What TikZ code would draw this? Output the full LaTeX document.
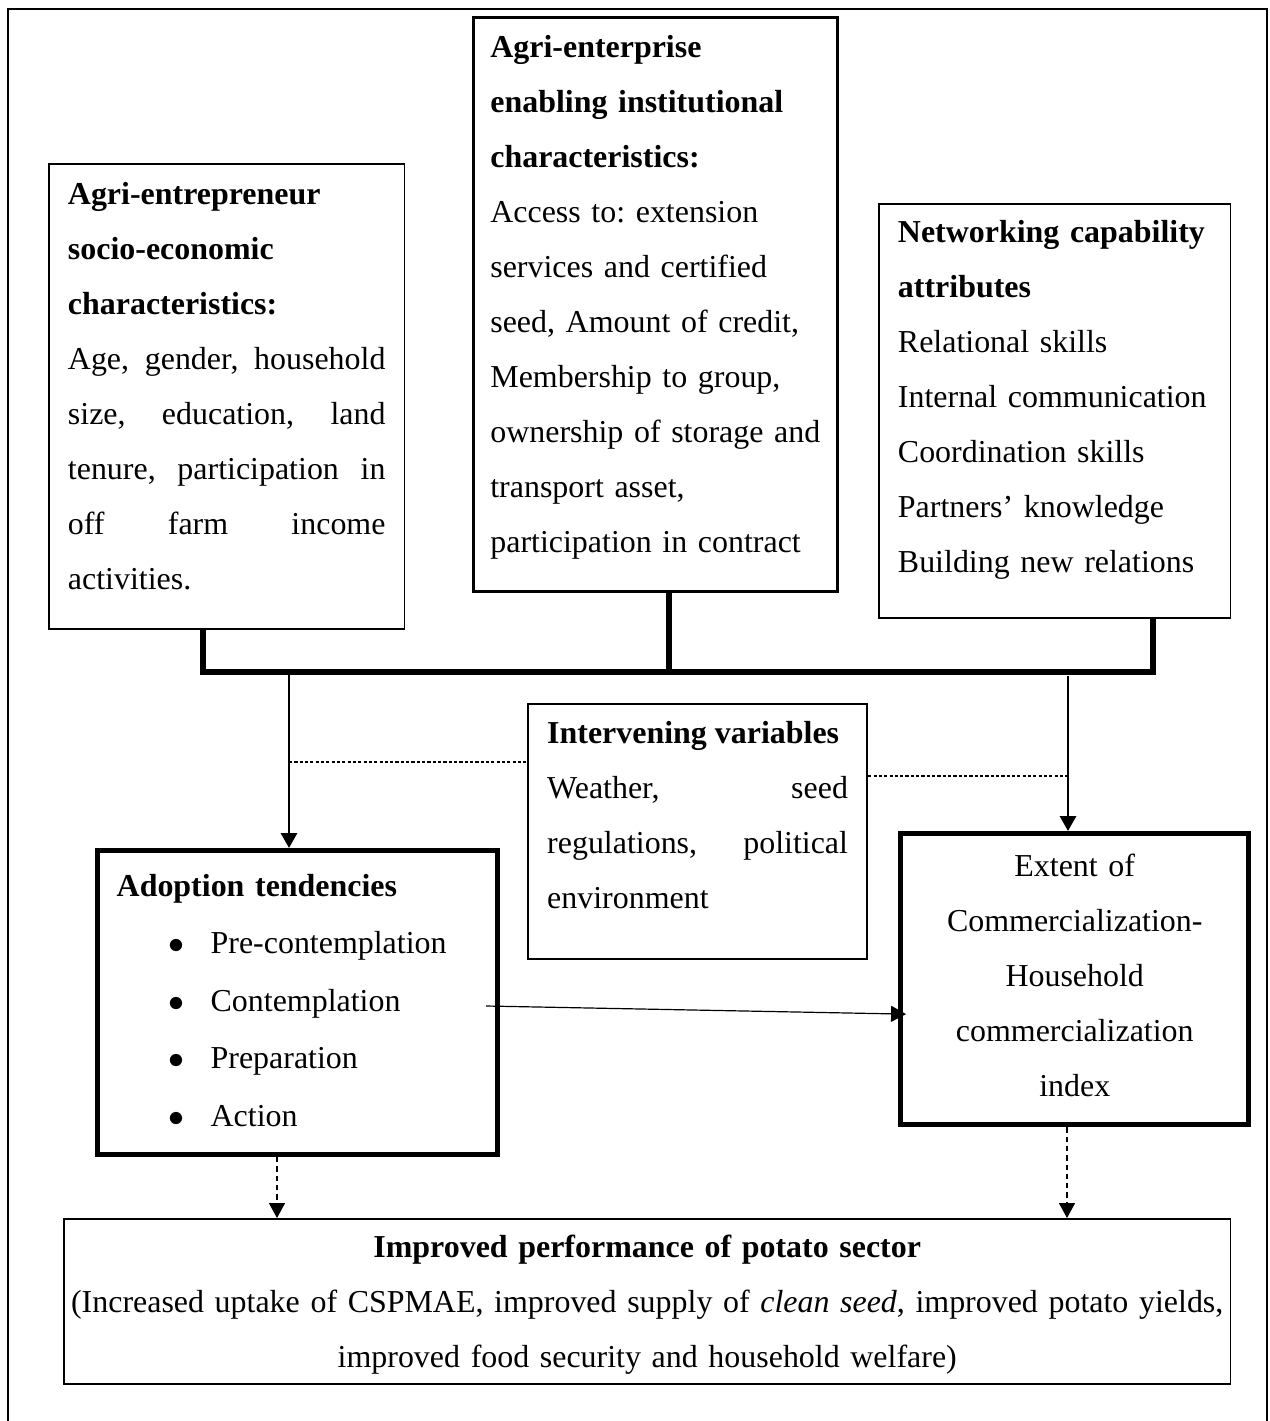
\documentclass[tikz,border=0pt]{standalone}
\usepackage{fontspec}
\setmainfont{Liberation Serif}
\usepackage{tikz}
\usetikzlibrary{
    arrows.meta,
    calc
}
\frenchspacing

\begin{document}
\begin{tikzpicture}[
    x=0.3757pt,
    y=-0.3757pt,
    font=\fontsize{12pt}{20.66pt}\selectfont,
    textbox/.style={
        rectangle,
        draw,
        anchor=north west,
        inner xsep=7.2pt,
        inner ysep=0pt,
        line width=0.6pt
    },
    heavybox/.style={
        textbox,
        line width=1.9pt
    },
    frame/.style={
        line width=1.1pt
    },
    bus/.style={
        line width=1.9pt
    },
    arrow/.style={
        -{Triangle[length=5.6pt,width=6pt]},
        line width=1.1pt
    },
    thinarrow/.style={
        -{Triangle[length=5.6pt,width=6pt]},
        line width=0.45pt
    },
    dasharrow/.style={
        -{Triangle[length=5.6pt,width=6pt]},
        line width=0.45pt,
        dash pattern=on 2pt off 1.5pt
    },
    dashline/.style={
        line width=0.45pt,
        dash pattern=on 1.2pt off 0.8pt
    }
]

\useasboundingbox (0,0) rectangle (1270,1421);

% ============================================================
% OUTER FRAME
% ============================================================

\draw[frame] (8,1421) -- (8,9) -- (1267,9) -- (1267,1421);

% ============================================================
% INDEPENDENT VARIABLES
% ============================================================

\node[textbox, align=justify, text width=119.3pt,
      text height=15.4pt, text depth=159.3pt] (agent) at (48,163)
{
\textbf{Agri-entrepreneur}\\
\textbf{socio-economic}\\
\textbf{characteristics:}\\
Age, gender, household\linebreak
size, education, land\linebreak
tenure, participation in\linebreak
off farm income\linebreak
activities.
};

\node[textbox, align=left, text width=124pt, inner xsep=6.4pt,
      line width=1pt, text height=15pt, text depth=200.6pt]
      (enterprise) at (472,16)
{
\textbf{Agri-enterprise}\\
\textbf{enabling institutional}\\
\textbf{characteristics:}\\
Access to: extension\\
services and certified\\
seed, Amount of credit,\\
Membership to group,\\
ownership of storage and\\
transport asset,\\
participation in contract
};

\node[textbox, align=left, text width=117.8pt,
      text height=14.65pt, text depth=140.9pt] (network) at (878,203)
{
\textbf{Networking capability}\\
\textbf{attributes}\\
Relational skills\\
Internal communication\\
Coordination skills\\
Partners' knowledge\\
Building new relations
};

% ============================================================
% INTERVENING VARIABLES
% ============================================================

\node[textbox, align=justify, text width=113pt, line width=0.8pt,
      text height=14.65pt, text depth=81.2pt] (inter) at (527,703)
{
\textbf{Intervening variables}\\
Weather, seed\linebreak
regulations, political\linebreak
environment
};

% ============================================================
% DEPENDENT VARIABLES
% ============================================================

\node[heavybox, align=left, text width=135.9pt,
      text height=17.3pt, text depth=96.9pt] (adopt) at (95,848)
{
\textbf{Adoption tendencies}\\[0.9pt]
\hspace*{19.5pt}\makebox[15.8pt][l]{$\bullet$}Pre-contemplation\\[0.9pt]
\hspace*{19.5pt}\makebox[15.8pt][l]{$\bullet$}Contemplation\\[0.9pt]
\hspace*{19.5pt}\makebox[15.8pt][l]{$\bullet$}Preparation\\[0.9pt]
\hspace*{19.5pt}\makebox[15.8pt][l]{$\bullet$}Action
};

\node[heavybox, align=center, text width=116.5pt,
      text height=16.2pt, text depth=93.2pt] (extent) at (898,831)
{
Extent of\\
Commercialization-\\
Household\\
commercialization\\
index
};

% ============================================================
% OUTCOME
% ============================================================

\node[textbox, align=center, text width=434.4pt, inner xsep=2pt,
      text height=14.65pt, text depth=47.3pt] (perf) at (63,1218)
{
\textbf{Improved performance of potato sector}\\
(Increased uptake of CSPMAE, improved supply of \textit{clean seed}, improved potato yields,\\
improved food security and household welfare)
};

% ============================================================
% CONNECTIONS
% ============================================================

\coordinate (j1) at (203,672);
\coordinate (j2) at (669,672);
\coordinate (j3) at (1153,672);
\coordinate (j4) at (289,672);
\coordinate (j5) at (1068,676);

\draw[bus] (j1 |- agent.south) -- (j1) -- (j3) -- (j3 |- network.south);
\draw[bus] (j2 |- enterprise.south) -- (j2);

\draw[arrow] (j4) -- (j4 |- adopt.north);
\draw[arrow] (j5) -- (j5 |- extent.north);

\coordinate (dashL) at (289,762);
\coordinate (dashR) at (1070,776);
\draw[dashline] (dashL) -- (inter.west |- dashL);
\draw[dashline] (inter.east |- dashR) -- (dashR);

\coordinate (cont) at (486,1006);
\draw[thinarrow] (cont) -- ($(extent.west)+(8,35)$);

\coordinate (d1) at ($(adopt.south west)+(182,0)$);
\coordinate (d2) at ($(extent.south west)+(169,0)$);
\draw[dasharrow] (d1) -- (d1 |- perf.north);
\draw[dasharrow] (d2) -- (d2 |- perf.north);

\end{tikzpicture}
\end{document}
